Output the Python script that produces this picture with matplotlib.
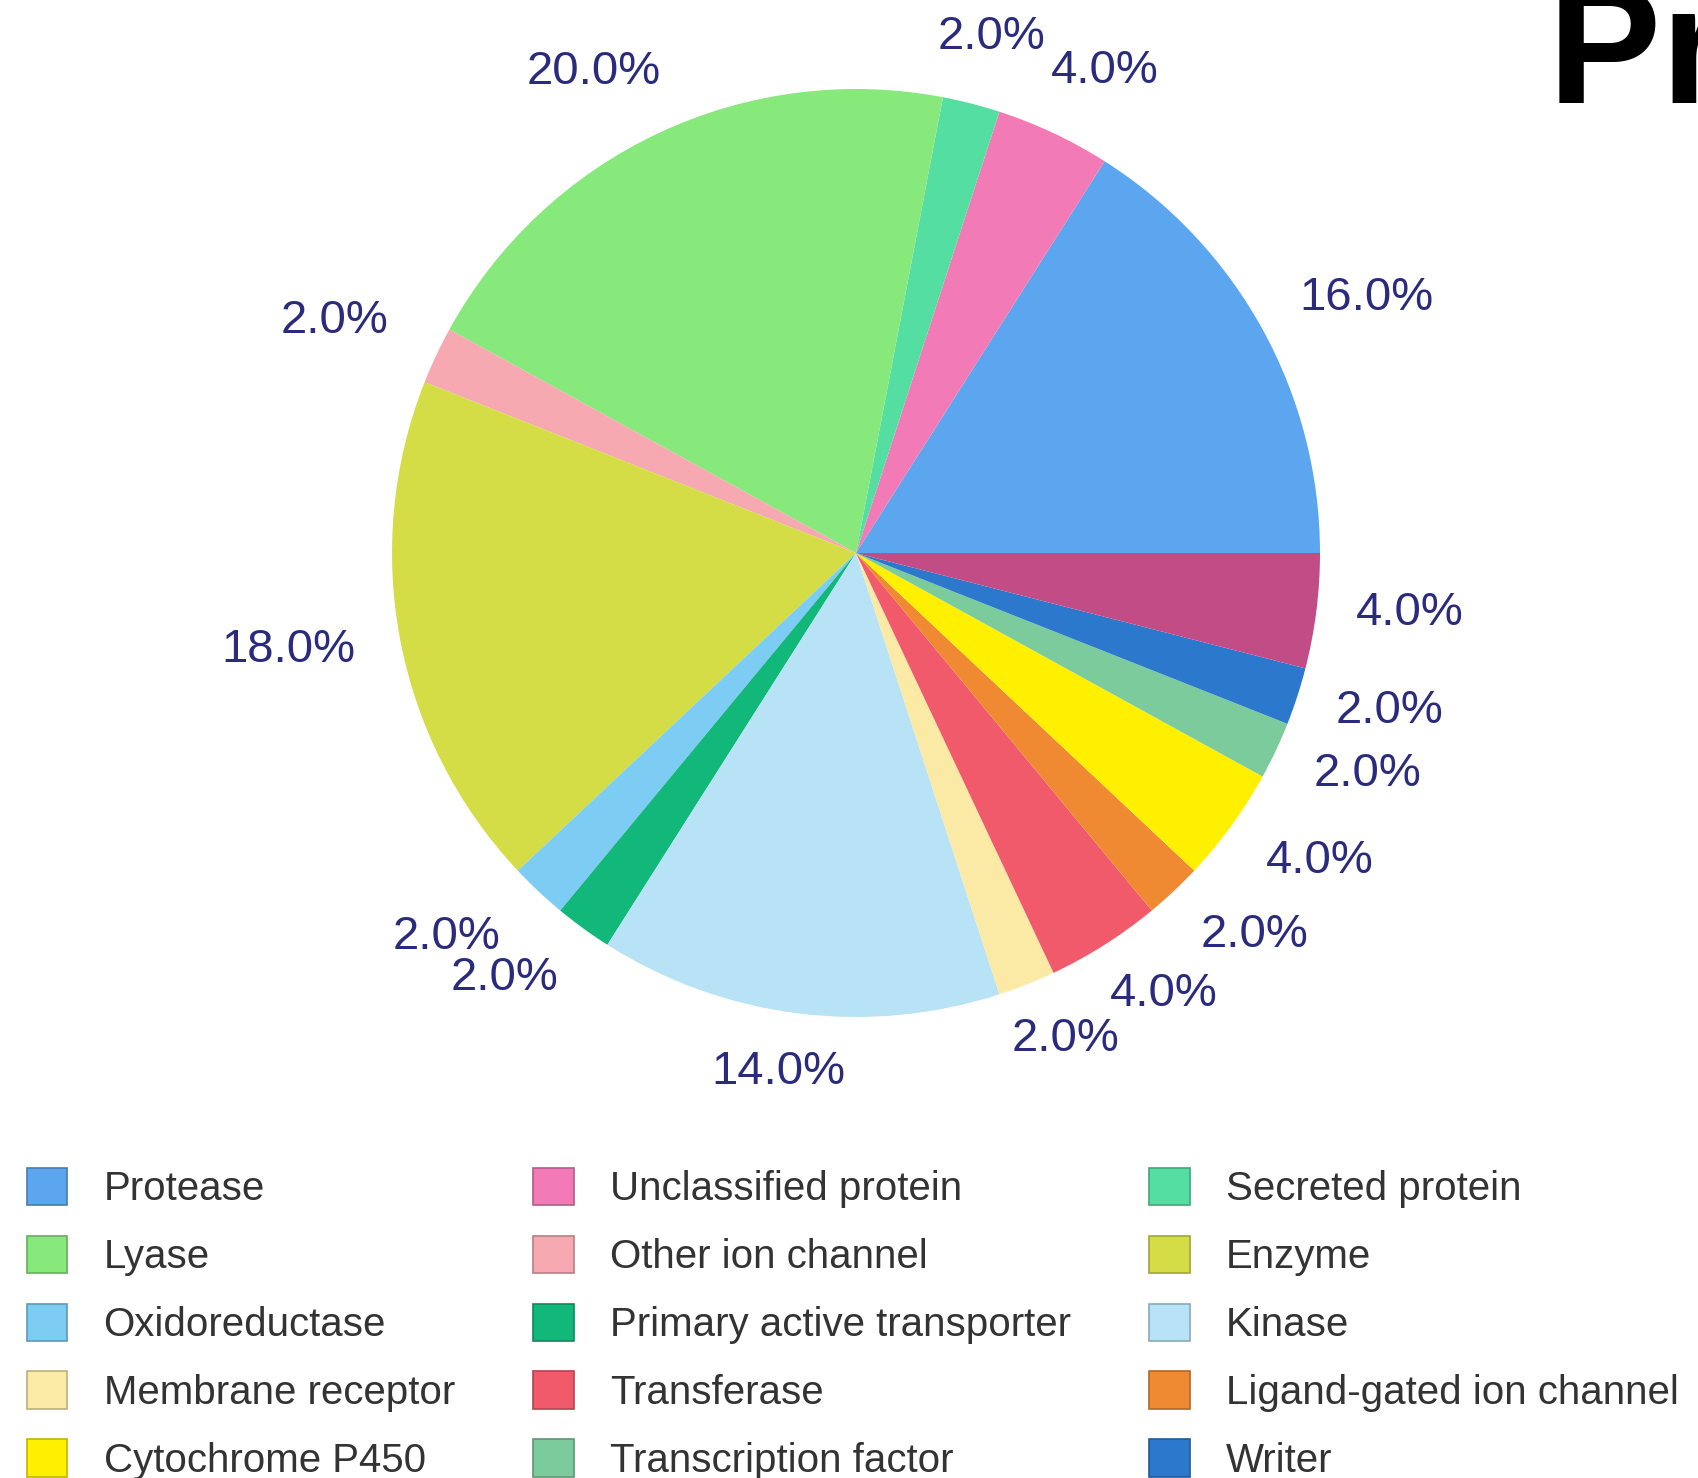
import numpy as np
import matplotlib.pyplot as plt
from matplotlib.patches import Patch
from matplotlib.colors import to_rgb

plt.rcParams['font.family'] = ['Liberation Sans', 'DejaVu Sans']

# Target classes, in pie order (counter-clockwise from 3 o'clock)
clases = [
    "Protease", "Unclassified protein", "Secreted protein",
    "Lyase", "Other ion channel", "Enzyme",
    "Oxidoreductase", "Primary active transporter", "Kinase",
    "Membrane receptor", "Transferase", "Ligand-gated ion channel",
    "Cytochrome P450", "Transcription factor", "Writer",
    "Family A G protein-coupled receptor",
]
porcentajes = [16, 4, 2, 20, 2, 18, 2, 2, 14, 2, 4, 2, 4, 2, 2, 4]
colores = [
    "#5ba6ee", "#f27ab6", "#55dea2",
    "#87e87b", "#f6a9b0", "#d4dd45",
    "#7dccf3", "#12b77a", "#b8e2f6",
    "#fbeaa6", "#f05a6b", "#ef8a33",
    "#fff000", "#7ccb9d", "#2b78cc",
    "#c24c86",
]

# Label placement: distance from centre (in radii) and angular nudge (deg)
dist_etiqueta = [1.23, 1.17, 1.15, 1.18, 1.23, 1.24, 1.21, 1.19,
                 1.13, 1.14, 1.16, 1.19, 1.20, 1.20, 1.20, 1.20]
giro_etiqueta = [-2.3, -2.1, -0.3, 3.4, 1.2, -1.1, -3.6, -3.6,
                 -1.3, 1.7, 2.5, 3.0, 2.4, 1.8, 1.5, 1.0]

W, H = 1699, 1478
fig = plt.figure(figsize=(W / 100, H / 100), dpi=100)

# Pie axes: centre (856, 553) px, radius 464 px
cx, cy, r = 856, 553, 464
ax = fig.add_axes([(cx - r) / W, 1 - (cy + r) / H, 2 * r / W, 2 * r / H])
wedges, _, autotexts = ax.pie(
    porcentajes, colors=colores, startangle=0, counterclock=True,
    autopct='%1.1f%%', pctdistance=1.2, radius=1,
    textprops=dict(fontsize=34, color='#2b2b7e'),
    wedgeprops=dict(linewidth=0),
)
ax.set_xlim(-1, 1)
ax.set_ylim(-1, 1)
ax.axis('off')

for w, t, d, g in zip(wedges, autotexts, dist_etiqueta, giro_etiqueta):
    ang = np.deg2rad((w.theta1 + w.theta2) / 2 + g)
    t.set_position((d * np.cos(ang), d * np.sin(ang)))
    t.set_ha('center')
    t.set_va('center')

# Legend: 15 visible entries, laid out row by row in 3 columns
def borde(c):
    rgb = np.array(to_rgb(c)) * 0.75
    return tuple(rgb)

n_vis = 15
handles = [Patch(facecolor=colores[i], edgecolor=borde(colores[i]), linewidth=1.2)
           for i in range(n_vis)]
labels = clases[:n_vis]
filas, cols = 5, 3
orden = [i * cols + j for j in range(cols) for i in range(filas)]
fig.legend([handles[k] for k in orden], [labels[k] for k in orden],
           ncol=3, loc='upper left',
           bbox_to_anchor=(27 / W, 1 - 1168 / H),
           frameon=False, fontsize=29, borderpad=0, borderaxespad=0,
           handlelength=1.0, handleheight=1.05, handletextpad=0.9,
           columnspacing=1.95, labelspacing=0.68,
           labelcolor='#333333')

# Title, running off the right edge of the canvas
fig.text(1548 / W, 1 - 103 / H, "Protein class", fontsize=122,
         fontweight='bold', color='black', ha='left', va='baseline')

fig.savefig('out.png', dpi=100, facecolor='white')
